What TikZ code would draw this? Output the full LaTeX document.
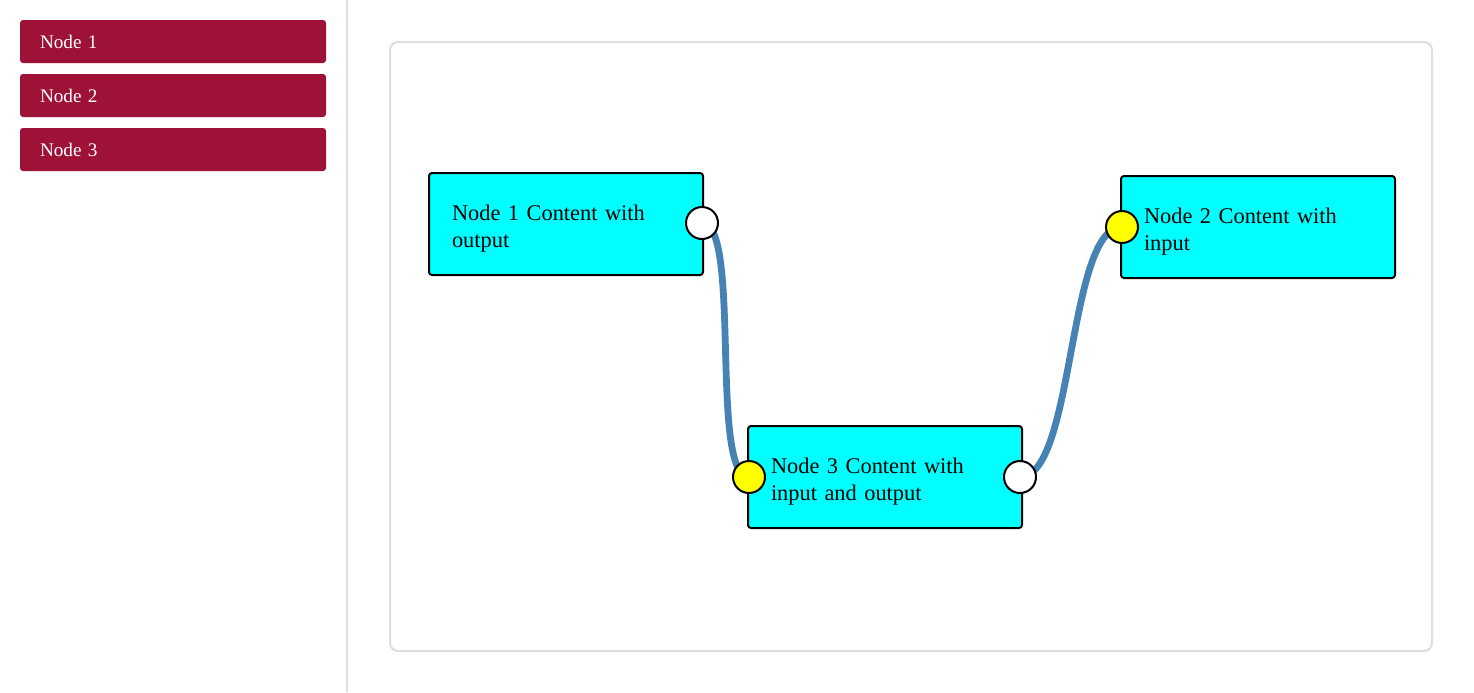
\documentclass[tikz,border=0pt]{standalone}
\usepackage{fontspec}
\setmainfont{Liberation Serif}
\pgfdeclarelayer{background}
\pgfsetlayers{background,main}
\definecolor{brand}{RGB}{158,18,56}
\definecolor{frame}{RGB}{222,222,222}
\definecolor{wirec}{RGB}{70,130,180}
\definecolor{aqua}{RGB}{0,255,255}
\definecolor{gold}{RGB}{255,255,0}
\tikzset{
  menubtn/.style={fill=brand, rounded corners=1.5pt, minimum width=153pt, minimum height=21.5pt,
    text=white, font=\fontsize{9.6}{11}\selectfont, align=left, text width=133pt, inner xsep=10pt, inner ysep=0pt},
  flowbox/.style={draw=black, line width=1pt, fill=aqua, rounded corners=1.5pt,
    minimum width=137pt, minimum height=51pt, text width=114pt, inner xsep=11.5pt, inner ysep=0pt,
    align=left, font=\fontsize{11.2}{13.5}\selectfont},
  port/.style={circle, draw=black, line width=1pt, minimum size=16pt, inner sep=0pt},
  inport/.style={port, fill=gold},
  outport/.style={port, fill=white},
  wire/.style={draw=wirec, line width=3.4pt}
}
\newcommand{\liftfix}{\rule{0pt}{12.5pt}}
\begin{document}
\begin{tikzpicture}[x=0.5pt, y=-0.5pt]
\useasboundingbox (0,0) rectangle (1474,692);
% sidebar
\draw[frame, line width=1pt] (347,0) -- (347,692);
\node[menubtn] (m1) at (173,41.5) {Node 1};
\node[menubtn] (m2) at (173,95.5) {Node 2};
\node[menubtn] (m3) at (173,149.5) {Node 3};
% canvas
\draw[frame, line width=1pt, rounded corners=4pt] (390,42) rectangle (1432,651);
% nodes
\node[flowbox] (n1) at (566,224) {\liftfix Node 1 Content with\\output};
\node[flowbox] (n3) at (885,477) {\liftfix Node 3 Content with\\input and output};
\node[flowbox] (n2) at (1258,227) {\liftfix Node 2 Content with\\input};
% ports
\node[outport] (o1) at (702,223) {};
\node[inport] (i3) at (749,477) {};
\node[outport] (o3) at (1020,477) {};
\node[inport] (i2) at (1122,227) {};
% wires
\begin{pgfonlayer}{background}
\draw[wire] (o1.center) .. controls +(40,0) and +(-40,0) .. (i3.center);
\draw[wire] (o3.center) .. controls +(55,0) and +(-55,0) .. (i2.center);
\end{pgfonlayer}
\end{tikzpicture}
\end{document}
